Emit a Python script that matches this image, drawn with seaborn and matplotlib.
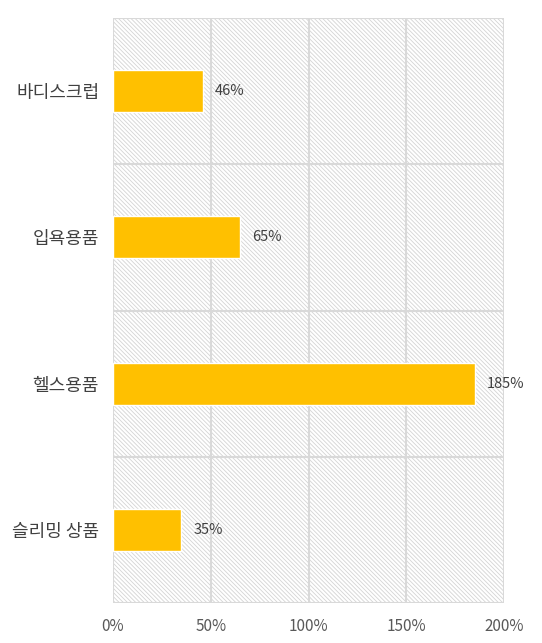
import numpy as np
import pandas as pd
import matplotlib
matplotlib.use("Agg")
import matplotlib.pyplot as plt
import seaborn as sns
from matplotlib.patches import Rectangle

categories = ["바디스크럽", "입욕용품", "헬스용품", "슬리밍 상품"]
growth = [46, 65, 185, 35]
x_ticks = [0, 50, 100, 150, 200]
x_tick_labels = ["0%", "50%", "100%", "150%", "200%"]

df = pd.DataFrame({"category": categories, "growth": growth})

sns.set_style("white")
plt.rcParams["font.family"] = ["Noto Sans CJK KR", "DejaVu Sans"]
plt.rcParams["hatch.linewidth"] = 0.6

fig = plt.figure(figsize=(5.42, 6.43), dpi=100)
ax = fig.add_axes([0.2085, 0.0622, 0.7215, 0.9098])

# hatched background of the plot area
bg = Rectangle((0, 0), 1, 1, transform=ax.transAxes, facecolor="white",
               edgecolor="#d4d4d4", hatch="\\" * 8, linewidth=0, zorder=0)
ax.add_patch(bg)

sns.barplot(data=df, x="growth", y="category", color="#FFC000",
            width=0.287, saturation=1, ax=ax, zorder=3)

for i, v in enumerate(growth):
    ax.text(v + 6, i, f"{v}%", va="center", ha="left", fontsize=10.5,
            color="#404040", zorder=4)

ax.set_xlim(0, 200)
ax.set_ylim(3.5, -0.5)
ax.set_xticks(x_ticks)
ax.set_xticklabels(x_tick_labels, fontsize=11, color="#595959")
ax.set_yticks(range(len(categories)))
ax.set_yticklabels(categories, fontsize=13, color="#404040")
ax.set_yticks(np.arange(-0.5, len(categories), 1), minor=True)

ax.tick_params(axis="x", length=0, pad=11)
ax.tick_params(axis="y", which="major", length=0, pad=10)
ax.tick_params(axis="y", which="minor", length=5, width=1.5, color="#d9d9d9")

ax.grid(axis="x", which="major", color="#d9d9d9", linewidth=1.5, zorder=1)
ax.grid(axis="y", which="minor", color="#d9d9d9", linewidth=1.5, zorder=1)
ax.grid(axis="y", which="major", visible=False)
ax.set_axisbelow(True)

ax.set_xlabel("")
ax.set_ylabel("")
for s in ax.spines.values():
    s.set_visible(False)

fig.savefig("out.png", dpi=100)
